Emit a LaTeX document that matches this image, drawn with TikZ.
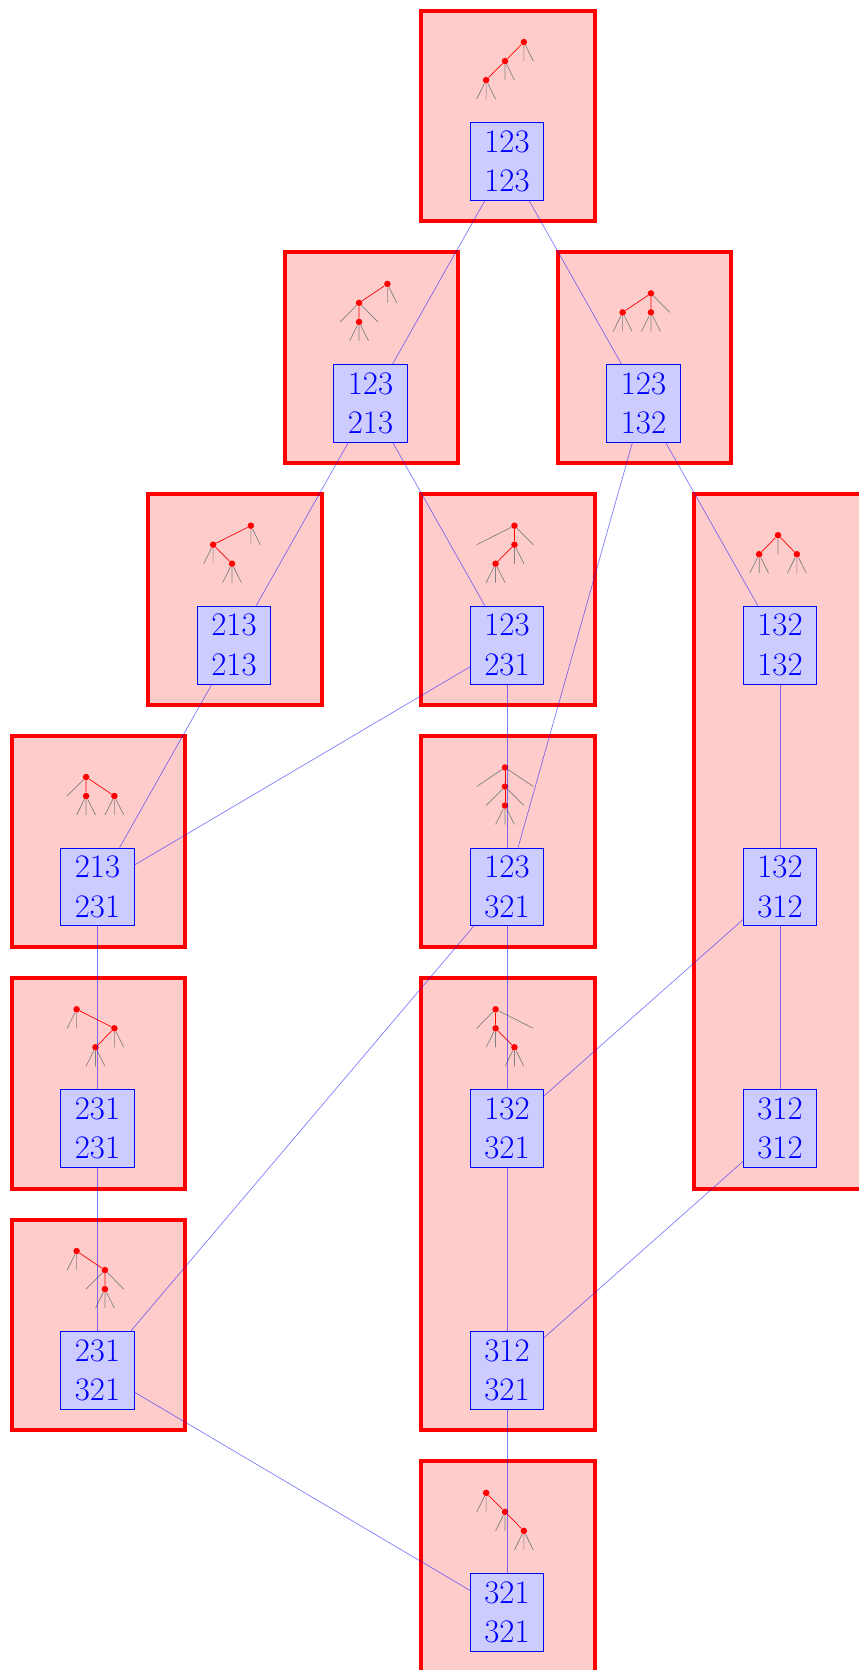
\documentclass[tikz,border=0pt]{standalone}

\tikzset{
	cellule/.style={draw=red, fill=red!20, line width=2.2pt, minimum width=3.47cm, minimum height=4.216cm, inner sep=0pt},
	perm/.style={draw=blue, fill=blue!20, text=blue, minimum width=1.47cm, minimum height=1.554cm, inner sep=0pt, align=center, font=\fontsize{18.7}{22.4}\selectfont, xshift=-0.02cm, yshift=-0.908cm},
	lien/.style={draw=blue, draw opacity=0.5},
	sommet/.style={circle, fill=red, inner sep=0pt, minimum size=0.13cm},
	arete/.style={red},
	feuille/.style={gray},
	arbre/.style={shift={(#1)}, xshift=-0.06cm, yshift=0.908cm, x=0.1886cm, y=0.38cm}
}

\begin{document}
\begin{tikzpicture}[x=2.73cm, y=-4.836cm]
	
	\useasboundingbox (-1.97cm,2.32cm) rectangle (15.19cm,-31.08cm);
	
	% Cellules (classes)
	\node[cellule] (c1) at (3,0) {};
	\node[cellule] (c2) at (2,1) {};
	\node[cellule] (c3) at (4,1) {};
	\node[cellule] (c4) at (1,2) {};
	\node[cellule] (c5) at (3,2) {};
	\node[cellule, minimum height=13.888cm] (c6) at (5,3) {};
	\node[cellule] (c7) at (0,3) {};
	\node[cellule] (c8) at (3,3) {};
	\node[cellule] (c9) at (0,4) {};
	\node[cellule, minimum height=9.052cm] (c10) at (3,4.5) {};
	\node[cellule] (c11) at (0,5) {};
	\node[cellule] (c12) at (3,6) {};
	
	% Arbre 1
	\begin{scope}[arbre={3,0}]
		\node[sommet] (a1) at (2,1.5) {};
		\node[sommet] (b1) at (0,0.5) {};
		\node[sommet] (d1) at (-2,-0.5) {};
		\draw[feuille] (a1) -- (2,0.5) (a1) -- (3,0.5)
			(b1) -- (0,-0.5) (b1) -- (1,-0.5)
			(d1) -- (-3,-1.5) (d1) -- (-2,-1.5) (d1) -- (-1,-1.5);
		\draw[arete] (a1) -- (b1) (b1) -- (d1);
	\end{scope}
	
	% Arbre 2
	\begin{scope}[arbre={2,1}]
		\node[sommet] (a2) at (2,1.5) {};
		\node[sommet] (b2) at (-1,0.5) {};
		\node[sommet] (d2) at (-1,-0.5) {};
		\draw[feuille] (a2) -- (2,0.5) (a2) -- (3,0.5)
			(b2) -- (-3,-0.5) (b2) -- (1,-0.5)
			(d2) -- (-2,-1.5) (d2) -- (-1,-1.5) (d2) -- (0,-1.5);
		\draw[arete] (a2) -- (b2) (b2) -- (d2);
	\end{scope}
	
	% Arbre 3
	\begin{scope}[arbre={4,1}]
		\node[sommet] (a3) at (1,1) {};
		\node[sommet] (b3) at (-2,0) {};
		\node[sommet] (d3) at (1,0) {};
		\draw[feuille] (a3) -- (3,0)
			(b3) -- (-3,-1) (b3) -- (-2,-1) (b3) -- (-1,-1)
			(d3) -- (0,-1) (d3) -- (1,-1) (d3) -- (2,-1);
		\draw[arete] (a3) -- (b3) (a3) -- (d3);
	\end{scope}
	
	% Arbre 4
	\begin{scope}[arbre={1,2}]
		\node[sommet] (a4) at (2,1.5) {};
		\node[sommet] (b4) at (-2,0.5) {};
		\node[sommet] (d4) at (0,-0.5) {};
		\draw[feuille] (a4) -- (2,0.5) (a4) -- (3,0.5)
			(b4) -- (-3,-0.5) (b4) -- (-2,-0.5)
			(d4) -- (-1,-1.5) (d4) -- (0,-1.5) (d4) -- (1,-1.5);
		\draw[arete] (a4) -- (b4) (b4) -- (d4);
	\end{scope}
	
	% Arbre 5
	\begin{scope}[arbre={3,2}]
		\node[sommet] (a5) at (1,1.5) {};
		\node[sommet] (b5) at (1,0.5) {};
		\node[sommet] (d5) at (-1,-0.5) {};
		\draw[feuille] (a5) -- (-3,0.5) (a5) -- (3,0.5)
			(b5) -- (1,-0.5) (b5) -- (2,-0.5)
			(d5) -- (-2,-1.5) (d5) -- (-1,-1.5) (d5) -- (0,-1.5);
		\draw[arete] (a5) -- (b5) (b5) -- (d5);
	\end{scope}
	
	% Arbre 6
	\begin{scope}[arbre={5,2}]
		\node[sommet] (a6) at (0,1) {};
		\node[sommet] (b6) at (-2,0) {};
		\node[sommet] (d6) at (2,0) {};
		\draw[feuille] (a6) -- (0,0)
			(b6) -- (-3,-1) (b6) -- (-2,-1) (b6) -- (-1,-1)
			(d6) -- (1,-1) (d6) -- (2,-1) (d6) -- (3,-1);
		\draw[arete] (a6) -- (b6) (a6) -- (d6);
	\end{scope}
	
	% Arbre 7
	\begin{scope}[arbre={0,3}]
		\node[sommet] (a7) at (-1,1) {};
		\node[sommet] (b7) at (-1,0) {};
		\node[sommet] (d7) at (2,0) {};
		\draw[feuille] (a7) -- (-3,0)
			(b7) -- (-2,-1) (b7) -- (-1,-1) (b7) -- (0,-1)
			(d7) -- (1,-1) (d7) -- (2,-1) (d7) -- (3,-1);
		\draw[arete] (a7) -- (b7) (a7) -- (d7);
	\end{scope}
	
	% Arbre 8
	\begin{scope}[arbre={3,3}]
		\node[sommet] (a8) at (0,1.5) {};
		\node[sommet] (b8) at (0,0.5) {};
		\node[sommet] (d8) at (0,-0.5) {};
		\draw[feuille] (a8) -- (-3,0.5) (a8) -- (3,0.5)
			(b8) -- (-2,-0.5) (b8) -- (2,-0.5)
			(d8) -- (-1,-1.5) (d8) -- (0,-1.5) (d8) -- (1,-1.5);
		\draw[arete] (a8) -- (b8) (b8) -- (d8);
	\end{scope}
	
	% Arbre 9
	\begin{scope}[arbre={0,4}]
		\node[sommet] (a9) at (-2,1.5) {};
		\node[sommet] (b9) at (2,0.5) {};
		\node[sommet] (d9) at (0,-0.5) {};
		\draw[feuille] (a9) -- (-3,0.5) (a9) -- (-2,0.5)
			(b9) -- (2,-0.5) (b9) -- (3,-0.5)
			(d9) -- (-1,-1.5) (d9) -- (0,-1.5) (d9) -- (1,-1.5);
		\draw[arete] (a9) -- (b9) (b9) -- (d9);
	\end{scope}
	
	% Arbre 10
	\begin{scope}[arbre={3,4}]
		\node[sommet] (a10) at (-1,1.5) {};
		\node[sommet] (b10) at (-1,0.5) {};
		\node[sommet] (d10) at (1,-0.5) {};
		\draw[feuille] (a10) -- (-3,0.5) (a10) -- (3,0.5)
			(b10) -- (-2,-0.5) (b10) -- (-1,-0.5)
			(d10) -- (0,-1.5) (d10) -- (1,-1.5) (d10) -- (2,-1.5);
		\draw[arete] (a10) -- (b10) (b10) -- (d10);
	\end{scope}
	
	% Arbre 11
	\begin{scope}[arbre={0,5}]
		\node[sommet] (a11) at (-2,1.5) {};
		\node[sommet] (b11) at (1,0.5) {};
		\node[sommet] (d11) at (1,-0.5) {};
		\draw[feuille] (a11) -- (-3,0.5) (a11) -- (-2,0.5)
			(b11) -- (-1,-0.5) (b11) -- (3,-0.5)
			(d11) -- (0,-1.5) (d11) -- (1,-1.5) (d11) -- (2,-1.5);
		\draw[arete] (a11) -- (b11) (b11) -- (d11);
	\end{scope}
	
	% Arbre 12
	\begin{scope}[arbre={3,6}]
		\node[sommet] (a12) at (-2,1.5) {};
		\node[sommet] (b12) at (0,0.5) {};
		\node[sommet] (d12) at (2,-0.5) {};
		\draw[feuille] (a12) -- (-3,0.5) (a12) -- (-2,0.5)
			(b12) -- (-1,-0.5) (b12) -- (0,-0.5)
			(d12) -- (1,-1.5) (d12) -- (2,-1.5) (d12) -- (3,-1.5);
		\draw[arete] (a12) -- (b12) (b12) -- (d12);
	\end{scope}
	
	% Intervalles
	\node[perm] (p123-123) at (3,0) {123\\123};
	\node[perm] (p123-213) at (2,1) {123\\213};
	\node[perm] (p123-132) at (4,1) {123\\132};
	\node[perm] (p213-213) at (1,2) {213\\213};
	\node[perm] (p123-231) at (3,2) {123\\231};
	\node[perm] (p132-132) at (5,2) {132\\132};
	\node[perm] (p213-231) at (0,3) {213\\231};
	\node[perm] (p123-321) at (3,3) {123\\321};
	\node[perm] (p132-312) at (5,3) {132\\312};
	\node[perm] (p231-231) at (0,4) {231\\231};
	\node[perm] (p132-321) at (3,4) {132\\321};
	\node[perm] (p312-312) at (5,4) {312\\312};
	\node[perm] (p231-321) at (0,5) {231\\321};
	\node[perm] (p312-321) at (3,5) {312\\321};
	\node[perm] (p321-321) at (3,6) {321\\321};
	
	% Relations de couverture
	\draw[lien] (p123-123) -- (p123-213);
	\draw[lien] (p123-123) -- (p123-132);
	\draw[lien] (p123-213) -- (p213-213);
	\draw[lien] (p123-213) -- (p123-231);
	\draw[lien] (p123-132) -- (p123-321);
	\draw[lien] (p123-132) -- (p132-132);
	\draw[lien] (p213-213) -- (p213-231);
	\draw[lien] (p123-231) -- (p213-231);
	\draw[lien] (p123-231) -- (p123-321);
	\draw[lien] (p132-132) -- (p132-312);
	\draw[lien] (p213-231) -- (p231-231);
	\draw[lien] (p123-321) -- (p231-321);
	\draw[lien] (p123-321) -- (p132-321);
	\draw[lien] (p132-312) -- (p132-321);
	\draw[lien] (p132-312) -- (p312-312);
	\draw[lien] (p231-231) -- (p231-321);
	\draw[lien] (p132-321) -- (p312-321);
	\draw[lien] (p312-312) -- (p312-321);
	\draw[lien] (p231-321) -- (p321-321);
	\draw[lien] (p312-321) -- (p321-321);
	
\end{tikzpicture}
\end{document}
